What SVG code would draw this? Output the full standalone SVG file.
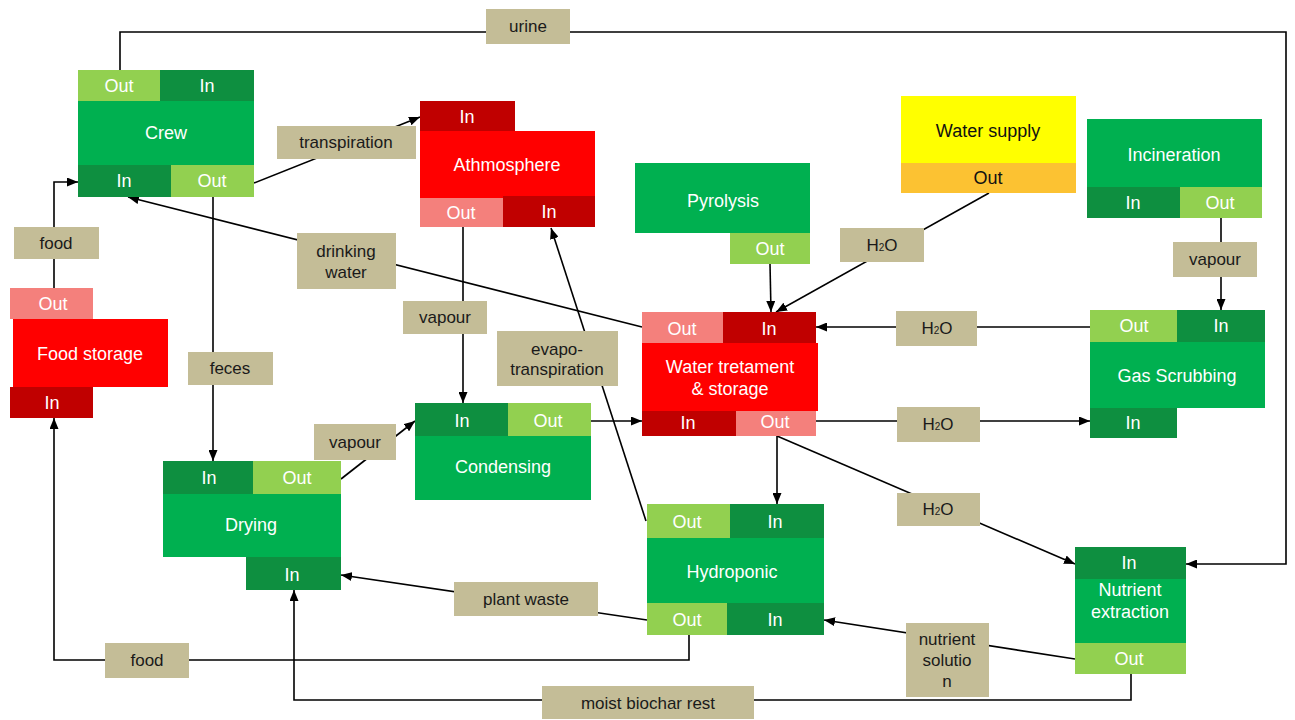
<svg xmlns="http://www.w3.org/2000/svg" width="1295" height="720" viewBox="0 0 1295 720">
<defs>
<marker id="arr" markerWidth="11" markerHeight="9" refX="11" refY="4.5" orient="auto" markerUnits="userSpaceOnUse">
<path d="M0,0 L11,4.5 L0,9 z" fill="#000"/>
</marker>
<style>
.g{fill:#00B050}.dg{fill:#0E8F40}.lg{fill:#92D050}
.r{fill:#FF0000}.dr{fill:#C00000}.pk{fill:#F4807C}
.y{fill:#FFFF00}.or{fill:#FCC232}.lb{fill:#C4BD97}
text{font-family:"Liberation Sans",Arial,sans-serif;text-anchor:middle}
.nt{fill:#FFFFFF;font-size:18px}
.bt{fill:#111;font-size:18px}
.et{fill:#1a1a1a;font-size:17px}
.c{fill:none;stroke:#000;stroke-width:1.6}
.ca{fill:none;stroke:#000;stroke-width:1.6;marker-end:url(#arr)}
</style>
</defs>
<rect width="1295" height="720" fill="#fff"/>

<g id="connectors">
<polyline class="ca" points="120,70 120,32 1286,32 1286,564 1186,564"/>
<line class="ca" x1="254" y1="183" x2="420" y2="117"/>
<polyline class="ca" points="54,288 54,182 78,182"/>
<line class="ca" x1="642" y1="327" x2="128" y2="197"/>
<line class="ca" x1="213" y1="197" x2="213" y2="461"/>
<line class="ca" x1="463" y1="227" x2="463" y2="403"/>
<line class="ca" x1="646" y1="521" x2="551" y2="228"/>
<line class="ca" x1="341" y1="479" x2="415" y2="421"/>
<line class="ca" x1="591" y1="421" x2="642" y2="421"/>
<line class="ca" x1="770" y1="264" x2="771" y2="312"/>
<line class="ca" x1="989" y1="193" x2="776" y2="312"/>
<line class="ca" x1="1221" y1="218" x2="1221" y2="310"/>
<line class="ca" x1="1090" y1="327" x2="816" y2="327"/>
<line class="ca" x1="816" y1="421" x2="1090" y2="421"/>
<line class="ca" x1="777" y1="436" x2="777" y2="504"/>
<line class="ca" x1="777" y1="436" x2="1075" y2="564"/>
<line class="ca" x1="1075" y1="659" x2="824" y2="620"/>
<line class="ca" x1="647" y1="620" x2="341" y2="575"/>
<polyline class="ca" points="689,635 689,660 54,660 54,418"/>
<polyline class="ca" points="1131,674 1131,700 294,700 294,590"/>
</g>

<g id="edge-labels">
<rect class="lb" x="486" y="9" width="84" height="35"/><text class="et" x="528" y="32">urine</text>
<rect class="lb" x="277" y="126" width="139" height="33"/><text class="et" x="346" y="148">transpiration</text>
<rect class="lb" x="14" y="227" width="85" height="32"/><text class="et" x="56" y="249">food</text>
<rect class="lb" x="297" y="233" width="99" height="56"/><text class="et" x="346" y="257">drinking</text><text class="et" x="346" y="278">water</text>
<rect class="lb" x="403" y="301" width="84" height="33"/><text class="et" x="445" y="323">vapour</text>
<rect class="lb" x="188" y="352" width="85" height="33"/><text class="et" x="230" y="374">feces</text>
<rect class="lb" x="497" y="331" width="121" height="55"/><text class="et" x="557" y="355">evapo-</text><text class="et" x="557" y="375">transpiration</text>
<rect class="lb" x="840" y="228" width="84" height="34"/><text class="et" x="882" y="251">H<tspan font-size="10">2</tspan>O</text>
<rect class="lb" x="1173" y="242" width="84" height="35"/><text class="et" x="1215" y="265">vapour</text>
<rect class="lb" x="896" y="311" width="81" height="35"/><text class="et" x="937" y="334">H<tspan font-size="10">2</tspan>O</text>
<rect class="lb" x="897" y="407" width="83" height="35"/><text class="et" x="938" y="430">H<tspan font-size="10">2</tspan>O</text>
<rect class="lb" x="314" y="424" width="82" height="36"/><text class="et" x="355" y="448">vapour</text>
<rect class="lb" x="897" y="493" width="83" height="33"/><text class="et" x="938" y="515">H<tspan font-size="10">2</tspan>O</text>
<rect class="lb" x="454" y="582" width="144" height="34"/><text class="et" x="526" y="605">plant waste</text>
<rect class="lb" x="906" y="623" width="83" height="74"/><text class="et" x="947" y="645">nutrient</text><text class="et" x="947" y="666">solutio</text><text class="et" x="947" y="687">n</text>
<rect class="lb" x="105" y="643" width="84" height="35"/><text class="et" x="147" y="666">food</text>
<rect class="lb" x="542" y="686" width="212" height="33"/><text class="et" x="648" y="709">moist biochar rest</text>
</g>

<g id="crew">
<rect class="lg" x="78" y="70" width="82" height="31"/><rect class="dg" x="160" y="70" width="94" height="31"/>
<rect class="g" x="78" y="101" width="176" height="64"/>
<rect class="dg" x="78" y="165" width="93" height="32"/><rect class="lg" x="171" y="165" width="83" height="32"/>
<text class="nt" x="119" y="92">Out</text><text class="nt" x="207" y="92">In</text>
<text class="nt" x="166" y="139">Crew</text>
<text class="nt" x="124" y="187">In</text><text class="nt" x="212" y="187">Out</text>
</g>

<g id="atmosphere">
<rect class="dr" x="420" y="101" width="95" height="30"/>
<rect class="r" x="420" y="131" width="175" height="67"/>
<rect class="pk" x="420" y="198" width="83" height="29"/><rect class="dr" x="503" y="196" width="92" height="31"/>
<text class="nt" x="467" y="123">In</text>
<text class="nt" x="507" y="171">Athmosphere</text>
<text class="nt" x="461" y="219">Out</text><text class="nt" x="549" y="218">In</text>
</g>

<g id="pyrolysis">
<rect class="g" x="635" y="163" width="175" height="70"/>
<rect class="lg" x="730" y="233" width="80" height="31"/>
<text class="nt" x="723" y="207">Pyrolysis</text>
<text class="nt" x="770" y="255">Out</text>
</g>

<g id="water-supply">
<rect class="y" x="901" y="96" width="175" height="67"/>
<rect class="or" x="901" y="163" width="175" height="30"/>
<text class="bt" x="988" y="137">Water supply</text>
<text class="bt" x="988" y="184">Out</text>
</g>

<g id="incineration">
<rect class="g" x="1087" y="119" width="175" height="68"/>
<rect class="dg" x="1087" y="187" width="93" height="31"/><rect class="lg" x="1180" y="187" width="82" height="31"/>
<text class="nt" x="1174" y="161">Incineration</text>
<text class="nt" x="1133" y="209">In</text><text class="nt" x="1220" y="209">Out</text>
</g>

<g id="gas-scrubbing">
<rect class="lg" x="1090" y="310" width="87" height="32"/><rect class="dg" x="1177" y="310" width="88" height="32"/>
<rect class="g" x="1090" y="342" width="175" height="66"/>
<rect class="dg" x="1090" y="408" width="87" height="30"/>
<text class="nt" x="1134" y="332">Out</text><text class="nt" x="1221" y="332">In</text>
<text class="nt" x="1177" y="382">Gas Scrubbing</text>
<text class="nt" x="1133" y="429">In</text>
</g>

<g id="water-treatment">
<rect class="pk" x="642" y="312" width="81" height="31"/><rect class="dr" x="723" y="312" width="93" height="31"/>
<rect class="r" x="642" y="343" width="176" height="68"/>
<rect class="dr" x="642" y="411" width="94" height="25"/><rect class="pk" x="736" y="411" width="80" height="25"/>
<text class="nt" x="682" y="335">Out</text><text class="nt" x="769" y="335">In</text>
<text class="nt" x="730" y="373">Water tretament</text>
<text class="nt" x="730" y="395">&amp; storage</text>
<text class="nt" x="688" y="429">In</text><text class="nt" x="775" y="428">Out</text>
</g>

<g id="food-storage">
<rect class="pk" x="10" y="288" width="83" height="31"/>
<rect class="r" x="13" y="319" width="155" height="68"/>
<rect class="dr" x="10" y="387" width="83" height="31"/>
<text class="nt" x="53" y="310">Out</text>
<text class="nt" x="90" y="360">Food storage</text>
<text class="nt" x="52" y="409">In</text>
</g>

<g id="drying">
<rect class="dg" x="163" y="461" width="90" height="33"/><rect class="lg" x="253" y="461" width="88" height="33"/>
<rect class="g" x="163" y="494" width="178" height="63"/>
<rect class="dg" x="246" y="557" width="95" height="33"/>
<text class="nt" x="209" y="484">In</text><text class="nt" x="297" y="484">Out</text>
<text class="nt" x="251" y="531">Drying</text>
<text class="nt" x="292" y="581">In</text>
</g>

<g id="condensing">
<rect class="dg" x="415" y="403" width="93" height="33"/><rect class="lg" x="508" y="403" width="83" height="33"/>
<rect class="g" x="415" y="436" width="176" height="64"/>
<text class="nt" x="462" y="427">In</text><text class="nt" x="548" y="427">Out</text>
<text class="nt" x="503" y="473">Condensing</text>
</g>

<g id="hydroponic">
<rect class="lg" x="647" y="504" width="83" height="34"/><rect class="dg" x="730" y="504" width="94" height="34"/>
<rect class="g" x="647" y="538" width="177" height="65"/>
<rect class="lg" x="647" y="603" width="80" height="32"/><rect class="dg" x="727" y="603" width="97" height="32"/>
<text class="nt" x="687" y="528">Out</text><text class="nt" x="775" y="528">In</text>
<text class="nt" x="732" y="578">Hydroponic</text>
<text class="nt" x="687" y="626">Out</text><text class="nt" x="775" y="626">In</text>
</g>

<g id="nutrient-extraction">
<rect class="dg" x="1075" y="547" width="111" height="32"/>
<rect class="g" x="1075" y="579" width="111" height="64"/>
<rect class="lg" x="1075" y="643" width="111" height="31"/>
<text class="nt" x="1129" y="569">In</text>
<text class="nt" x="1130" y="596">Nutrient</text>
<text class="nt" x="1130" y="618">extraction</text>
<text class="nt" x="1129" y="665">Out</text>
</g>
</svg>
